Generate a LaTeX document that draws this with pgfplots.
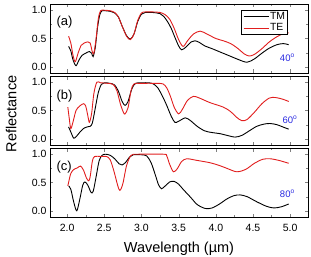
\documentclass[border=0pt]{standalone}
\usepackage{pgfplots}
\pgfplotsset{compat=1.18}
\usepackage{fontspec}
\setmainfont{Liberation Sans}
\definecolor{myred}{RGB}{225,30,30}
\definecolor{myblue}{RGB}{40,40,225}
\pgfplotsset{
  panel/.style={
    scale only axis, width=258pt, height=69pt,
    xmin=1.77, xmax=5.24, ymin=-0.11, ymax=1.11,
    xtick={2,2.5,...,5}, minor x tick num=1,
    ytick={0,0.5,1}, minor y tick num=1,
    tick align=inside, major tick length=3.5pt, minor tick length=2pt,
    /pgf/number format/assume math mode=true,
    /pgf/number format/.cd, fixed, fixed zerofill, precision=1, /pgfplots/.cd,
    tick label style={font=\fontsize{10.5}{12}\selectfont},
    xticklabel style={yshift=-3.5pt},
    every axis plot/.append style={line width=0.9pt, smooth, tension=0.5},
    axis line style={line width=0.8pt},
  }
}
\begin{document}
\begin{tikzpicture}
\useasboundingbox (-50pt,-184pt) rectangle (261pt,73pt);
% panel (a)
\begin{axis}[panel, xticklabels={}, at={(0,0)},
  legend style={at={(0.922,0.91)}, anchor=north east, font=\fontsize{10.4}{12}\selectfont, draw=black, line width=0.6pt, inner xsep=1.5pt, inner ysep=0.5pt, row sep=1pt, nodes={inner sep=1pt}},
  legend cell align=left,
  legend image code/.code={\draw[#1, line width=0.9pt] (0pt,0pt) -- (25pt,0pt);},
]
\addplot[black] coordinates {
(2.02,0.36)(2.05,0.28)(2.08,0.12)(2.12,0.02)(2.16,0.12)(2.20,0.20)(2.25,0.24)(2.30,0.27)(2.33,0.24)(2.35,0.18)(2.38,0.35)(2.41,0.70)(2.44,0.92)(2.47,0.99)(2.52,0.99)(2.58,0.98)(2.64,0.95)(2.69,0.88)(2.74,0.72)(2.80,0.55)(2.85,0.49)(2.90,0.58)(2.95,0.80)(3.00,0.93)(3.05,0.96)(3.15,0.96)(3.25,0.94)(3.30,0.89)(3.35,0.80)(3.40,0.68)(3.45,0.52)(3.50,0.37)(3.54,0.30)(3.60,0.35)(3.67,0.44)(3.72,0.46)(3.78,0.43)(3.85,0.37)(3.95,0.32)(4.06,0.26)(4.19,0.19)(4.30,0.13)(4.42,0.08)(4.52,0.14)(4.62,0.24)(4.72,0.33)(4.82,0.39)(4.91,0.41)(4.98,0.39)
};
\addlegendentry{TM}
\addplot[myred] coordinates {
(2.02,0.54)(2.05,0.42)(2.08,0.20)(2.11,0.09)(2.15,0.25)(2.19,0.38)(2.23,0.42)(2.28,0.44)(2.31,0.42)(2.34,0.26)(2.36,0.24)(2.39,0.50)(2.42,0.85)(2.45,0.99)(2.50,1.00)(2.58,0.99)(2.64,0.96)(2.69,0.88)(2.74,0.72)(2.80,0.54)(2.85,0.48)(2.90,0.58)(2.95,0.82)(3.00,0.95)(3.05,0.97)(3.15,0.97)(3.25,0.96)(3.32,0.92)(3.38,0.84)(3.44,0.68)(3.50,0.48)(3.56,0.36)(3.62,0.46)(3.70,0.58)(3.79,0.63)(3.88,0.58)(4.00,0.50)(4.10,0.46)(4.20,0.41)(4.30,0.32)(4.38,0.23)(4.45,0.19)(4.52,0.22)(4.62,0.32)(4.72,0.44)(4.82,0.53)(4.90,0.58)(4.98,0.60)
};
\addlegendentry{TE}
\node[anchor=west, font=\fontsize{13}{15}\selectfont] at (rel axis cs:0.012,0.74) {(a)};
\node[font=\fontsize{9.5}{11}\selectfont, text=myblue] at (rel axis cs:0.92,0.22) {40$^{\mathrm{o}}$};
\end{axis}
% panel (b)
\begin{axis}[panel, xticklabels={}, at={(0,-72pt)},
  ylabel={Reflectance}, ylabel style={font=\fontsize{14.5}{16}\selectfont, at={(axis description cs:-0.116,0.45)}, anchor=south}]
\addplot[black] coordinates {
(2.02,0.21)(2.05,0.12)(2.09,0.01)(2.13,0.05)(2.18,0.13)(2.23,0.19)(2.27,0.21)(2.31,0.22)(2.34,0.28)(2.38,0.55)(2.42,0.82)(2.46,0.96)(2.50,0.99)(2.58,0.98)(2.64,0.95)(2.69,0.84)(2.74,0.66)(2.78,0.59)(2.82,0.66)(2.87,0.88)(2.92,0.98)(3.00,0.99)(3.10,0.99)(3.16,0.97)(3.22,0.90)(3.28,0.76)(3.34,0.59)(3.40,0.40)(3.45,0.29)(3.50,0.31)(3.59,0.37)(3.66,0.32)(3.75,0.22)(3.85,0.14)(3.95,0.11)(4.06,0.09)(4.15,0.06)(4.26,0.03)(4.35,0.06)(4.45,0.14)(4.55,0.22)(4.65,0.26)(4.73,0.27)(4.82,0.25)(4.90,0.21)(4.98,0.17)
};
\addplot[myred] coordinates {
(2.01,0.56)(2.03,0.35)(2.05,0.18)(2.08,0.30)(2.12,0.50)(2.17,0.58)(2.22,0.62)(2.25,0.58)(2.28,0.40)(2.30,0.29)(2.33,0.45)(2.36,0.80)(2.40,1.00)(2.45,0.99)(2.55,0.98)(2.62,0.96)(2.67,0.85)(2.72,0.60)(2.76,0.46)(2.78,0.44)(2.82,0.55)(2.86,0.85)(2.90,0.97)(3.00,0.98)(3.20,0.98)(3.29,0.97)(3.34,0.90)(3.39,0.75)(3.44,0.56)(3.50,0.44)(3.55,0.52)(3.62,0.68)(3.70,0.75)(3.78,0.72)(3.92,0.64)(4.10,0.56)(4.20,0.48)(4.28,0.38)(4.35,0.32)(4.42,0.34)(4.52,0.47)(4.62,0.62)(4.72,0.72)(4.80,0.73)(4.90,0.70)(4.98,0.66)
};
\node[anchor=west, font=\fontsize{13}{15}\selectfont] at (rel axis cs:0.012,0.71) {(b)};
\node[font=\fontsize{9.5}{11}\selectfont, text=myblue] at (rel axis cs:0.93,0.37) {60$^{\mathrm{o}}$};
\end{axis}
% panel (c)
\begin{axis}[panel, at={(0,-144pt)},
  xlabel={Wavelength (µm)}, xlabel style={font=\fontsize{14.5}{16}\selectfont, at={(axis description cs:0.5,-0.454)}, anchor=center}]
\addplot[black] coordinates {
(2.02,0.44)(2.05,0.38)(2.09,0.15)(2.13,0.00)(2.17,0.20)(2.21,0.45)(2.24,0.51)(2.28,0.45)(2.32,0.33)(2.35,0.34)(2.39,0.60)(2.43,0.88)(2.47,0.98)(2.52,1.00)(2.58,0.98)(2.64,0.92)(2.70,0.83)(2.74,0.81)(2.79,0.86)(2.84,0.95)(2.89,0.99)(3.00,0.99)(3.07,0.97)(3.13,0.85)(3.19,0.62)(3.23,0.46)(3.27,0.39)(3.32,0.44)(3.38,0.51)(3.44,0.52)(3.50,0.47)(3.56,0.38)(3.66,0.24)(3.75,0.11)(3.86,0.04)(3.95,0.05)(4.05,0.12)(4.15,0.21)(4.25,0.27)(4.33,0.28)(4.42,0.25)(4.55,0.16)(4.68,0.08)(4.78,0.05)(4.88,0.07)(4.98,0.12)
};
\addplot[myred] coordinates {
(2.01,0.44)(2.02,0.50)(2.05,0.66)(2.09,0.73)(2.14,0.76)(2.18,0.79)(2.22,0.72)(2.26,0.58)(2.29,0.53)(2.31,0.60)(2.34,0.88)(2.37,0.96)(2.45,0.96)(2.53,0.96)(2.58,0.90)(2.63,0.70)(2.68,0.45)(2.71,0.36)(2.75,0.48)(2.80,0.80)(2.86,0.98)(2.95,1.00)(3.30,1.00)(3.34,0.97)(3.38,0.82)(3.43,0.69)(3.48,0.74)(3.54,0.87)(3.61,0.92)(3.75,0.89)(3.92,0.85)(4.05,0.80)(4.15,0.75)(4.28,0.69)(4.40,0.73)(4.52,0.84)(4.63,0.91)(4.73,0.92)(4.85,0.89)(4.98,0.84)
};
\node[anchor=west, font=\fontsize{13}{15}\selectfont] at (rel axis cs:0.012,0.72) {(c)};
\node[font=\fontsize{9.5}{11}\selectfont, text=myblue] at (rel axis cs:0.92,0.34) {80$^{\mathrm{o}}$};
\end{axis}
\end{tikzpicture}
\end{document}
